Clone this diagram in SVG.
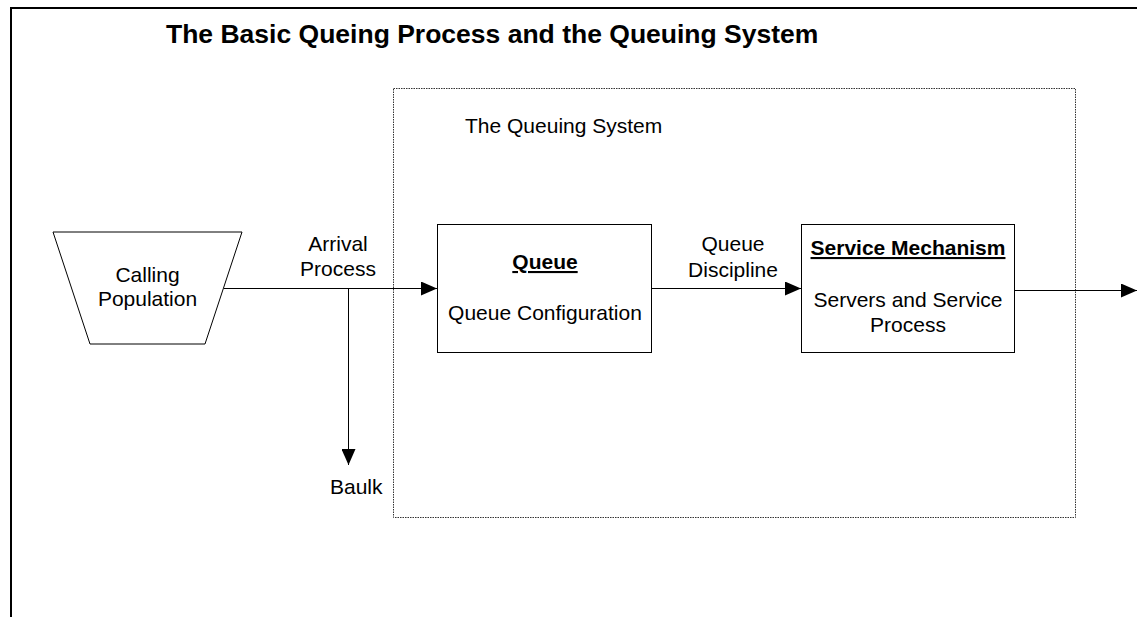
<svg xmlns="http://www.w3.org/2000/svg" width="1137" height="617" viewBox="0 0 1137 617">
<style>
  text { font-family: "Liberation Sans", Arial, sans-serif; fill: #000; }
  .t { font-size: 21px; }
  .c { text-anchor: middle; }
  .b { font-weight: bold; }
  .u { text-decoration: underline; }
  .box { fill: #fff; stroke: #000; stroke-width: 1; }
  .conn { fill: none; stroke: #000; stroke-width: 1; }
</style>
<defs>
  <marker id="arr" markerUnits="userSpaceOnUse" markerWidth="16" markerHeight="14" refX="16" refY="7" orient="auto">
    <path d="M0,0 L16,7 L0,14 Z" fill="#000"/>
  </marker>
</defs>
<rect width="1137" height="617" fill="#fff"/>
<g id="frame">
  <line x1="11" y1="8" x2="1137" y2="8" stroke="#000" stroke-width="2"/>
  <line x1="11" y1="7" x2="11" y2="617" stroke="#000" stroke-width="2"/>
</g>
<text id="title" class="b" x="166" y="43" font-size="26.5">The Basic Queing Process and the Queuing System</text>
<g id="queuing-system">
  <rect x="393.5" y="88.5" width="682" height="429" fill="none" stroke="#333" stroke-width="1" stroke-dasharray="1.5,1"/>
  <text class="t" x="465" y="133">The Queuing System</text>
</g>
<g id="calling-population">
  <polygon points="53,232 242,232 205,344 90,344" class="box"/>
  <text class="t c" x="147.5" y="282">Calling</text>
  <text class="t c" x="147.5" y="306">Population</text>
</g>
<g id="queue">
  <rect x="437.5" y="224.5" width="214" height="128" class="box"/>
  <text class="t c b u" x="545" y="269">Queue</text>
  <text class="t c" x="545" y="320">Queue Configuration</text>
</g>
<g id="service-mechanism">
  <rect x="801.5" y="224.5" width="213" height="128" class="box"/>
  <text class="t c b u" x="908" y="255">Service Mechanism</text>
  <text class="t c" x="908" y="307">Servers and Service</text>
  <text class="t c" x="908" y="332">Process</text>
</g>
<g id="connectors">
  <line x1="224" y1="288.5" x2="437" y2="288.5" class="conn" marker-end="url(#arr)"/>
  <line x1="348.5" y1="288.5" x2="348.5" y2="465" class="conn" stroke="#444" marker-end="url(#arr)"/>
  <line x1="652" y1="288.5" x2="801" y2="288.5" class="conn" marker-end="url(#arr)"/>
  <line x1="1015" y1="290.5" x2="1137" y2="290.5" class="conn" marker-end="url(#arr)"/>
</g>
<g id="labels">
  <text class="t c" x="338" y="251">Arrival</text>
  <text class="t c" x="338" y="276">Process</text>
  <text class="t c" x="733" y="251">Queue</text>
  <text class="t c" x="733" y="277">Discipline</text>
  <text class="t" x="330" y="494">Baulk</text>
</g>
</svg>
